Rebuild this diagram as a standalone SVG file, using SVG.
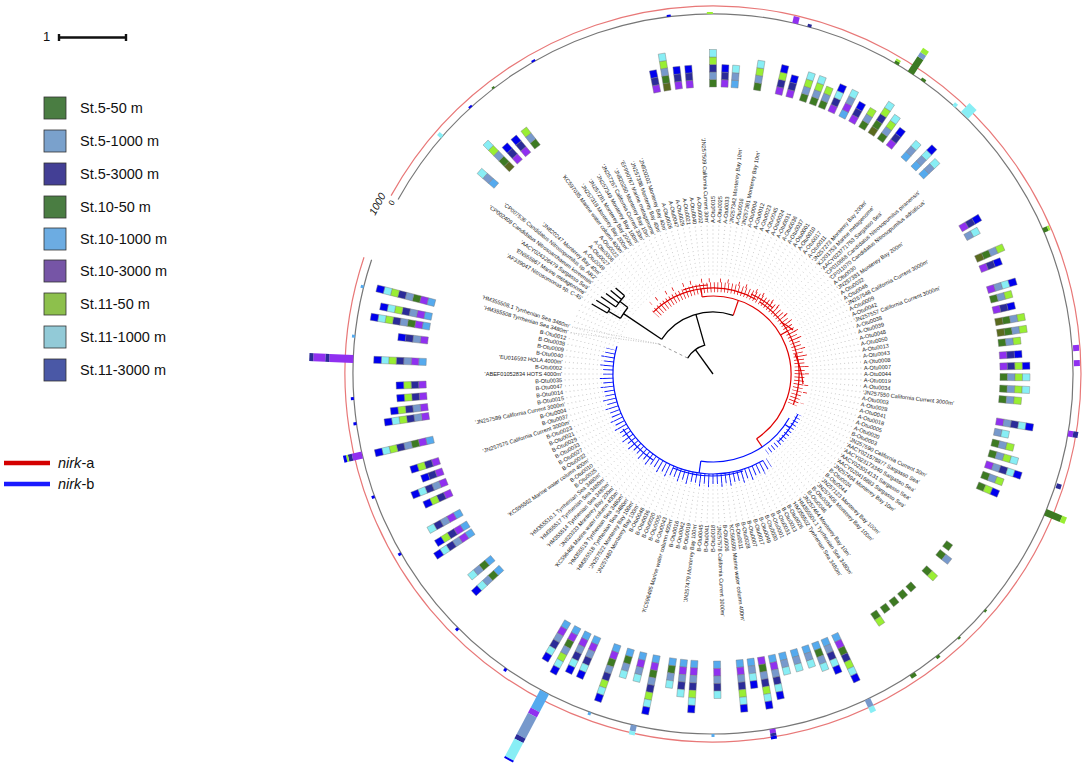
<svg xmlns="http://www.w3.org/2000/svg" width="1084" height="767" viewBox="0 0 1084 767">
<style>
text{font-family:"Liberation Sans",Arial,sans-serif}
.t text{font-size:5.6px;fill:#222}
.t .e{text-anchor:end}
.lg{font-size:14.5px;fill:#111}
.hq{stroke:#777;stroke-width:0.4}
.dots circle{fill:none;stroke:#bbb;stroke-width:0.9;stroke-dasharray:0.18 0.82;stroke-dashoffset:0.09}
.blk{fill:none;stroke:#000;stroke-width:1.3}
.red{fill:none;stroke:#e00000;stroke-width:1.2}
.blu{fill:none;stroke:#0010ff;stroke-width:1.2}
</style>
<defs>
<rect id="hOL" class="hq" x="0" y="-3.5" width="7.5" height="7" fill="#5a6b1e"/>
<rect id="hLB" class="hq" x="0" y="-3.5" width="7.5" height="7" fill="#55aaee"/>
<rect id="hPU" class="hq" x="0" y="-3.5" width="7.5" height="7" fill="#9030f0"/>
<rect id="hDG" class="hq" x="0" y="-3.5" width="7.5" height="7" fill="#3d7a22"/>
<rect id="hSB" class="hq" x="0" y="-3.5" width="7.5" height="7" fill="#7799cc"/>
<rect id="hNV" class="hq" x="0" y="-3.5" width="7.5" height="7" fill="#2b2b99"/>
<rect id="hLG" class="hq" x="0" y="-3.5" width="7.5" height="7" fill="#99ee33"/>
<rect id="hCY" class="hq" x="0" y="-3.5" width="7.5" height="7" fill="#88eef5"/>
<rect id="hBL" class="hq" x="0" y="-3.5" width="7.5" height="7" fill="#0000ee"/>
</defs>
<rect width="1084" height="767" fill="#fff"/>

<g id="legend">
<text x="43" y="41" font-size="13" fill="#111">1</text>
<path d="M59 37.5H126M59 34V41M126 34V41" stroke="#111" stroke-width="2.4" fill="none"/>
<g stroke="#333" stroke-width="0.8">
<rect x="44" y="97" width="22" height="22" fill="#4a7d42"/>
<rect x="44" y="130" width="22" height="22" fill="#7aa1cc"/>
<rect x="44" y="163" width="22" height="22" fill="#433f95"/>
<rect x="44" y="196" width="22" height="22" fill="#4a7d42"/>
<rect x="44" y="228" width="22" height="22" fill="#6cace2"/>
<rect x="44" y="260" width="22" height="22" fill="#7655a6"/>
<rect x="44" y="293" width="22" height="22" fill="#8dc04c"/>
<rect x="44" y="326" width="22" height="22" fill="#92cad7"/>
<rect x="44" y="359" width="22" height="22" fill="#4a58a6"/>
</g>
<text class="lg" x="80" y="113">St.5-50 m</text>
<text class="lg" x="80" y="146">St.5-1000 m</text>
<text class="lg" x="80" y="179">St.5-3000 m</text>
<text class="lg" x="80" y="212">St.10-50 m</text>
<text class="lg" x="80" y="244">St.10-1000 m</text>
<text class="lg" x="80" y="276">St.10-3000 m</text>
<text class="lg" x="80" y="309">St.11-50 m</text>
<text class="lg" x="80" y="342">St.11-1000 m</text>
<text class="lg" x="80" y="375">St.11-3000 m</text>
<line x1="4" y1="463" x2="50" y2="463" stroke="#d40000" stroke-width="4.5"/>
<line x1="4" y1="484" x2="50" y2="484" stroke="#1a1aff" stroke-width="4.5"/>
<text class="lg" x="58" y="468"><tspan font-style="italic">nirk</tspan>-a</text>
<text class="lg" x="58" y="489"><tspan font-style="italic">nirk</tspan>-b</text>
</g>

<g id="ring" transform="translate(713 374)">
<path d="M-314.9,-174.5A360,360 0 1 1 -341.4,-114.2" fill="none" stroke="#777" stroke-width="1.2"/>
<path d="M-321.9,-178.4A368,368 0 1 1 -349,-116.8" fill="none" stroke="#e87878" stroke-width="1.2"/>
<g transform="rotate(303.3)"><rect x="360" y="-3.5" width="18" height="7" fill="#3d7a22"/><rect x="378" y="-3.5" width="5" height="7" fill="#7799cc"/><rect x="383" y="-3.5" width="5" height="7" fill="#99ee33"/></g>
<g transform="rotate(283.2)"><rect x="360" y="-3" width="7" height="6" fill="#9030f0"/></g>
<g transform="rotate(285.5)"><rect x="360" y="-2" width="3" height="4" fill="#2b2b99"/></g>
<g transform="rotate(300.6)"><rect x="360" y="-2.5" width="3" height="5" fill="#3d7a22"/><rect x="363" y="-2.5" width="2" height="5" fill="#99ee33"/></g>
<g transform="rotate(305.6)"><rect x="360" y="-2.5" width="3" height="5" fill="#3d7a22"/></g>
<g transform="rotate(314.2)"><rect x="361" y="-5" width="12" height="10" fill="#88eef5"/></g>
<g transform="rotate(312)"><rect x="360" y="-2" width="4" height="4" fill="#88eef5"/></g>
<g transform="rotate(336.5)"><rect x="360" y="-2.5" width="5" height="5" fill="#3d7a22"/><rect x="365" y="-2.5" width="2" height="5" fill="#99ee33"/></g>
<g transform="rotate(355.9)"><rect x="361" y="-3" width="6" height="6" fill="#9030f0"/></g>
<g transform="rotate(358.3)"><rect x="361" y="-3" width="6" height="6" fill="#9030f0"/></g>
<g transform="rotate(9.5)"><rect x="360" y="-3" width="5" height="6" fill="#9030f0"/><rect x="365" y="-3" width="5" height="6" fill="#2b2b99"/></g>
<g transform="rotate(18)"><rect x="361" y="-2.5" width="5" height="5" fill="#2b2b99"/></g>
<g transform="rotate(22.6)"><rect x="360" y="-3.5" width="17" height="7" fill="#3d7a22"/><rect x="377" y="-3.5" width="5" height="7" fill="#99ee33"/></g>
<g transform="rotate(51.5)"><rect x="360" y="-2" width="3" height="4" fill="#3d7a22"/></g>
<g transform="rotate(56.4)"><rect x="360" y="-3" width="4" height="6" fill="#3d7a22"/></g>
<g transform="rotate(64.6)"><rect x="360" y="-3" width="8" height="6" fill="#7799cc"/><rect x="368" y="-3" width="6" height="6" fill="#88eef5"/></g>
<g transform="rotate(80.5)"><rect x="360" y="-3" width="4" height="6" fill="#9030f0"/><rect x="364" y="-3" width="3" height="6" fill="#2b2b99"/><rect x="367" y="-3" width="3" height="6" fill="#0000ee"/></g>
<g transform="rotate(102.7)"><rect x="360" y="-3" width="6" height="6" fill="#7799cc"/><rect x="366" y="-3" width="4" height="6" fill="#88eef5"/></g>
<g transform="rotate(117.9)"><rect x="360" y="-5" width="20" height="10" fill="#55aaee"/><rect x="380" y="-5" width="6" height="10" fill="#9030f0"/><rect x="386" y="-5" width="24" height="10" fill="#7799cc"/><rect x="410" y="-5" width="5" height="10" fill="#2b2b99"/><rect x="415" y="-5" width="20" height="10" fill="#88eef5"/><rect x="435" y="-5" width="2" height="10" fill="#0000ee"/></g>
<g transform="rotate(167)"><rect x="360" y="-3.5" width="10" height="7" fill="#9030f0"/><rect x="370" y="-3.5" width="4" height="7" fill="#2b2b99"/><rect x="374" y="-3.5" width="2" height="7" fill="#99ee33"/><rect x="376" y="-3.5" width="3" height="7" fill="#0000ee"/></g>
<g transform="rotate(182.4)"><rect x="360" y="-4" width="24" height="8" fill="#9030f0"/><rect x="384" y="-4" width="4" height="8" fill="#2b2b99"/><rect x="388" y="-4" width="12" height="8" fill="#9030f0"/><rect x="400" y="-4" width="4" height="8" fill="#2b2b99"/></g>
<g fill="#0000ee"><rect transform="rotate(125)" x="360" y="-1" width="3" height="3"/><rect transform="rotate(135)" x="360" y="-1" width="3" height="3"/><rect transform="rotate(150)" x="360" y="-1" width="3" height="3"/><rect transform="rotate(160)" x="360" y="-1" width="3" height="3"/><rect transform="rotate(172)" x="360" y="-1" width="3" height="3"/><rect transform="rotate(176)" x="360" y="-1" width="3" height="3"/><rect transform="rotate(262.8)" x="360" y="-1" width="2" height="4"/><rect transform="rotate(240)" x="360" y="-1" width="2" height="4"/><rect transform="rotate(227.6)" x="360" y="-1" width="2" height="4"/></g>
<g fill="#55aaee"><rect transform="rotate(186)" x="360" y="-1.5" width="3" height="3"/><rect transform="rotate(194)" x="360" y="-1.5" width="3" height="3"/><rect transform="rotate(90)" x="360" y="-1.5" width="3" height="3"/><rect transform="rotate(110)" x="360" y="-1.5" width="3" height="3"/></g>
<g transform="rotate(221.2)"><rect x="360" y="-2" width="5" height="4" fill="#88eef5"/></g>
<g transform="rotate(232.5)"><rect x="360" y="-1.5" width="2" height="3" fill="#3d7a22"/></g>
<g transform="rotate(269.5)"><rect x="360" y="-3" width="2" height="6" fill="#99ee33"/></g>
<g transform="rotate(41)"><rect x="360" y="-1.5" width="2" height="3" fill="#3d7a22"/></g>
<g transform="rotate(47)"><rect x="360" y="-1.5" width="2" height="3" fill="#3d7a22"/></g>
<text transform="translate(-338,-158) rotate(-62)" font-size="10.5" font-style="italic" fill="#111">1000</text>
<text transform="translate(-320,-168) rotate(-62)" font-size="8" fill="#111">0</text>
</g>

<g id="leaders" class="dots" transform="translate(713 374)">
<circle r="100" pathLength="156"/><circle r="104" pathLength="156"/><circle r="108" pathLength="156"/><circle r="112" pathLength="156"/><circle r="116" pathLength="156"/><circle r="120" pathLength="156"/><circle r="124" pathLength="156"/><circle r="128" pathLength="156"/><circle r="132" pathLength="156"/><circle r="136" pathLength="156"/><circle r="140" pathLength="156"/><circle r="144" pathLength="156"/><circle r="148" pathLength="156"/>
</g>

<g id="tree" transform="translate(713 374)">
<g class="blk">
<path d="M0,0L-17.6,-24.3"/>
<path d="M-25.4,-15.9A30,30 0 0 1 -8.3,-28.8L-17.1,-59.6"/>
<path d="M-51.4,-34.7A62,62 0 0 1 20.2,-58.6"/>
<path d="M-51.4,-34.7L-89.5,-60.4"/>
<path d="M-92.6,-55.6A108,108 0 0 1 -85.1,-66.5"/>
<path d="M-92.6,-55.6L-104.6,-62.8M-105.7,-61A122,122 0 0 1 -103.1,-65.2M-105.7,-61L-121.2,-70M-103.1,-65.2L-116.7,-73.7"/>
<path d="M-85.1,-66.5L-93,-72.6M-97.1,-67A118,118 0 0 1 -88.4,-78.2M-97.1,-67L-111.9,-77.2M-94.2,-71L-107,-80.6M-91.4,-74.6L-102.3,-83.4M-88.4,-78.2L-97.4,-86.1"/>
</g>
<path d="M-25.4,-15.9L-54.2,-30.1" fill="none" stroke="#999" stroke-width="1" stroke-dasharray="3 3"/>
<path d="M-54.2,-30.1L-142.1,-41.3M-54.2,-30.1L-140.3,-47" fill="none" stroke="#bbb" stroke-width="0.8" stroke-dasharray="1 1.5"/>
<g class="red">
<path d="M20.2,-58.6L25.4,-73.7"/>
<path d="M-10.9,-77.2A78,78 0 0 1 43.6,64.7"/>
<path d="M-10.9,-77.2L-12,-85.2"/>
<path d="M-59.7,-61.9A86,86 0 0 1 43,-74.5"/>
<path d="M67.5,-39L74.5,-43"/>
<path d="M46.8,-72.1A86,86 0 0 1 80.3,30.8"/>
<path d="M43.6,64.7L49.2,73"/>
<path d="M-57.5,-59.9A83,83 0 0 1 79.4,30.2" pathLength="67" stroke-width="10" stroke-dasharray="0.2 0.8" stroke-dashoffset="0.1"/>
<path d="M-62.3,-70.4A94,94 0 0 1 89.1,29.7" pathLength="65" stroke-width="4" stroke-dasharray="0.2 1.8 0.2 2.8" stroke-dashoffset="0.1"/>
<path d="M38,-80A90,90 0 0 1 60,-66M68,-52A94,94 0 0 1 80,-44M82,-20A91,91 0 0 1 90,10M-30,-84A89,89 0 0 1 -5,-89"/>
</g>
<g class="blu">
<path d="M76.2,44A88,88 0 0 1 -12.2,87.1"/>
<path d="M72.1,50.5L77,53.9M84.9,40.3A94,94 0 0 1 65.3,67.6"/>
<path d="M85.8,40.7A95,95 0 0 1 53.9,78.1" pathLength="13" stroke-width="6" stroke-dasharray="0.2 0.8" stroke-dashoffset="0.1"/>
<path d="M-12.2,87.1L-13.9,99"/>
<path d="M50,86.6A100,100 0 0 1 -96.1,-27.6"/>
<path d="M30,97A102,102 0 0 1 -40,94M-60,86A104,104 0 0 1 -90,55"/>
<path d="M56.1,88.8A105,105 0 0 1 -102,-25" pathLength="59" stroke-width="10" stroke-dasharray="0.2 0.8" stroke-dashoffset="0.1"/>
<path d="M51.9,98.9A111.7,111.7 0 0 1 -109.5,-22.3" pathLength="56" stroke-width="3" stroke-dasharray="0.2 2.8 0.2 1.8" stroke-dashoffset="0.1"/>
</g>
</g>

<g id="labels" class="t" transform="translate(713 374)">
<text class="e" transform="rotate(30)" x="-151" dy="2">'AF339047 Nitrosomonas sp. C-45'</text>
<text class="e" transform="rotate(32.3)" x="-151" dy="2">'EN555967 Marine metagenome'</text>
<text class="e" transform="rotate(34.6)" x="-151" dy="2">'AACY024328479 Sargasso Sea'</text>
<text class="e" transform="rotate(36.9)" x="-151" dy="2">'CP002408 Candidatus Nitrosoarchaeum koreensis'</text>
<text class="e" transform="rotate(39.2)" x="-151" dy="2">'CP007536 Candidatus Nitrosopumilus sp. AR2'</text>
<text class="e" transform="rotate(41.5)" x="-151" dy="2">'JN820247 Monterey Bay 40m'</text>
<text class="e" transform="rotate(43.8)" x="-151" dy="2">A-Otu0049</text>
<text class="e" transform="rotate(46.2)" x="-151" dy="2">A-Otu0027</text>
<text class="e" transform="rotate(48.5)" x="-151" dy="2">A-Otu0006</text>
<text class="e" transform="rotate(50.8)" x="-151" dy="2">A-Otu0022</text>
<text class="e" transform="rotate(53.1)" x="-151" dy="2">'KC597035 Marine water column 400m'</text>
<text class="e" transform="rotate(55.4)" x="-151" dy="2">'JN257318 Monterey Bay 200m'</text>
<text class="e" transform="rotate(57.7)" x="-151" dy="2">'JN257281 Monterey Bay 200m'</text>
<text class="e" transform="rotate(60)" x="-151" dy="2">'JN257349 Monterey Bay 100m'</text>
<text class="e" transform="rotate(62.3)" x="-151" dy="2">'JN257267 California Current 30m'</text>
<text class="e" transform="rotate(64.6)" x="-151" dy="2">'JN820250 Monterey Bay 10m'</text>
<text class="e" transform="rotate(66.9)" x="-151" dy="2">'EF990767 Marine metagenome'</text>
<text class="e" transform="rotate(69.2)" x="-151" dy="2">'JN257398 Monterey Bay 40m'</text>
<text class="e" transform="rotate(71.5)" x="-151" dy="2">'JN820202 Monterey Bay 40m'</text>
<text class="e" transform="rotate(73.8)" x="-151" dy="2">A-Otu0026</text>
<text class="e" transform="rotate(76.2)" x="-151" dy="2">A-Otu0047</text>
<text class="e" transform="rotate(78.5)" x="-151" dy="2">A-Otu0029</text>
<text class="e" transform="rotate(80.8)" x="-151" dy="2">A-Otu0021</text>
<text class="e" transform="rotate(83.1)" x="-151" dy="2">A-Otu0040</text>
<text class="e" transform="rotate(85.4)" x="-151" dy="2">A-Otu0002</text>
<text class="e" transform="rotate(87.7)" x="-151" dy="2">'JN257509 California Current 30m'</text>
<text transform="rotate(-90)" x="151" dy="2">A-Otu0015</text>
<text transform="rotate(-87.7)" x="151" dy="2">A-Otu0025</text>
<text transform="rotate(-85.4)" x="151" dy="2">A-Otu0033</text>
<text transform="rotate(-83.1)" x="151" dy="2">'JN257342 Monterey Bay 10m'</text>
<text transform="rotate(-80.8)" x="151" dy="2">A-Otu0016</text>
<text transform="rotate(-78.5)" x="151" dy="2">'JN257361 Monterey Bay 10m'</text>
<text transform="rotate(-76.2)" x="151" dy="2">A-Otu0004</text>
<text transform="rotate(-73.8)" x="151" dy="2">A-Otu0012</text>
<text transform="rotate(-71.5)" x="151" dy="2">A-Otu0023</text>
<text transform="rotate(-69.2)" x="151" dy="2">A-Otu0045</text>
<text transform="rotate(-66.9)" x="151" dy="2">A-Otu0024</text>
<text transform="rotate(-64.6)" x="151" dy="2">A-Otu0031</text>
<text transform="rotate(-62.3)" x="151" dy="2">A-Otu0036</text>
<text transform="rotate(-60)" x="151" dy="2">A-Otu0037</text>
<text transform="rotate(-57.7)" x="151" dy="2">A-Otu0001</text>
<text transform="rotate(-55.4)" x="151" dy="2">A-Otu0010</text>
<text transform="rotate(-53.1)" x="151" dy="2">A-Otu0017</text>
<text transform="rotate(-50.8)" x="151" dy="2">A-Otu0011</text>
<text transform="rotate(-48.5)" x="151" dy="2">'JN257273 Monterey Bay 200m'</text>
<text transform="rotate(-46.2)" x="151" dy="2">'KJ201753 Marine metagenome'</text>
<text transform="rotate(-43.8)" x="151" dy="2">'AACY023771753 Sargasso Sea'</text>
<text transform="rotate(-41.5)" x="151" dy="2">'CP010868 Candidatus Nitrosopumilus piranensis'</text>
<text transform="rotate(-39.2)" x="151" dy="2">'CP011070 Candidatus Nitrosopumilus adriaticus'</text>
<text transform="rotate(-36.9)" x="151" dy="2">A-Otu0030</text>
<text transform="rotate(-34.6)" x="151" dy="2">'JN257381 Monterey Bay 200m'</text>
<text transform="rotate(-32.3)" x="151" dy="2">A-Otu0032</text>
<text transform="rotate(-30)" x="151" dy="2">A-Otu0046</text>
<text transform="rotate(-27.7)" x="151" dy="2">'JN257548 California Current 3000m'</text>
<text transform="rotate(-25.4)" x="151" dy="2">A-Otu0009</text>
<text transform="rotate(-23.1)" x="151" dy="2">A-Otu0042</text>
<text transform="rotate(-20.8)" x="151" dy="2">'JN257557 California Current 3000m'</text>
<text transform="rotate(-18.5)" x="151" dy="2">A-Otu0038</text>
<text transform="rotate(-16.2)" x="151" dy="2">A-Otu0039</text>
<text transform="rotate(-13.8)" x="151" dy="2">A-Otu0048</text>
<text transform="rotate(-11.5)" x="151" dy="2">A-Otu0050</text>
<text transform="rotate(-9.2)" x="151" dy="2">A-Otu0013</text>
<text transform="rotate(-6.9)" x="151" dy="2">A-Otu0043</text>
<text transform="rotate(-4.6)" x="151" dy="2">A-Otu0008</text>
<text transform="rotate(-2.3)" x="151" dy="2">A-Otu0007</text>
<text transform="rotate(0)" x="151" dy="2">A-Otu0044</text>
<text transform="rotate(2.3)" x="151" dy="2">A-Otu0019</text>
<text transform="rotate(4.6)" x="151" dy="2">A-Otu0034</text>
<text transform="rotate(6.9)" x="151" dy="2">'JN257550 California Current 3000m'</text>
<text transform="rotate(9.2)" x="151" dy="2">A-Otu0003</text>
<text transform="rotate(11.5)" x="151" dy="2">A-Otu0028</text>
<text transform="rotate(13.8)" x="151" dy="2">A-Otu0041</text>
<text transform="rotate(16.2)" x="151" dy="2">A-Otu0018</text>
<text transform="rotate(18.5)" x="151" dy="2">A-Otu0005</text>
<text transform="rotate(20.8)" x="151" dy="2">A-Otu0020</text>
<text transform="rotate(23.1)" x="151" dy="2">B-Otu0003</text>
<text transform="rotate(25.4)" x="151" dy="2">'JN257590 California Current 30m'</text>
<text transform="rotate(27.7)" x="151" dy="2">'AACY021578877 Sargasso Sea'</text>
<text transform="rotate(30)" x="151" dy="2">'AACY023173340 Sargasso Sea'</text>
<text transform="rotate(32.3)" x="151" dy="2">'AACY023014131 Sargasso Sea'</text>
<text transform="rotate(34.6)" x="151" dy="2">'AACY020416883 Sargasso Sea'</text>
<text transform="rotate(36.9)" x="151" dy="2">'JN257494 Monterey Bay 10m'</text>
<text transform="rotate(39.2)" x="151" dy="2">B-Otu0024</text>
<text transform="rotate(41.5)" x="151" dy="2">B-Otu0044</text>
<text transform="rotate(43.8)" x="151" dy="2">'JN257123 Monterey Bay 100m'</text>
<text transform="rotate(46.2)" x="151" dy="2">'JN257406 Monterey Bay 100m'</text>
<text transform="rotate(48.5)" x="151" dy="2">B-Otu0034</text>
<text transform="rotate(50.8)" x="151" dy="2">B-Otu0046</text>
<text transform="rotate(53.1)" x="151" dy="2">'JN257464 Monterey Bay 10m'</text>
<text transform="rotate(55.4)" x="151" dy="2">'HM355504.1 Tyrrhenian Sea 3480m'</text>
<text transform="rotate(57.7)" x="151" dy="2">'HM355502 Tyrrhenian Sea 3480m'</text>
<text transform="rotate(60)" x="151" dy="2">B-Otu0026</text>
<text transform="rotate(62.3)" x="151" dy="2">B-Otu0013</text>
<text transform="rotate(64.6)" x="151" dy="2">B-Otu0031</text>
<text transform="rotate(66.9)" x="151" dy="2">B-Otu0001</text>
<text transform="rotate(69.2)" x="151" dy="2">B-Otu0030</text>
<text transform="rotate(71.5)" x="151" dy="2">B-Otu0049</text>
<text transform="rotate(73.8)" x="151" dy="2">B-Otu0017</text>
<text transform="rotate(76.2)" x="151" dy="2">B-Otu0007</text>
<text transform="rotate(78.5)" x="151" dy="2">B-Otu0028</text>
<text transform="rotate(80.8)" x="151" dy="2">B-Otu0011</text>
<text transform="rotate(83.1)" x="151" dy="2">'KC596509 Marine water column 400m'</text>
<text transform="rotate(85.4)" x="151" dy="2">B-Otu0006</text>
<text transform="rotate(87.7)" x="151" dy="2">'JN257578 California Current 3000m'</text>
<text class="e" transform="rotate(-90)" x="-151" dy="2">B-Otu0018</text>
<text class="e" transform="rotate(-87.7)" x="-151" dy="2">B-Otu0041</text>
<text class="e" transform="rotate(-85.4)" x="-151" dy="2">B-Otu0045</text>
<text class="e" transform="rotate(-83.1)" x="-151" dy="2">'JN257479 Monterey Bay 100m'</text>
<text class="e" transform="rotate(-80.8)" x="-151" dy="2">B-Otu0019</text>
<text class="e" transform="rotate(-78.5)" x="-151" dy="2">B-Otu0042</text>
<text class="e" transform="rotate(-76.2)" x="-151" dy="2">B-Otu0016</text>
<text class="e" transform="rotate(-73.8)" x="-151" dy="2">'KC596485 Marine water column 400m'</text>
<text class="e" transform="rotate(-71.5)" x="-151" dy="2">B-Otu0043</text>
<text class="e" transform="rotate(-69.2)" x="-151" dy="2">B-Otu0005</text>
<text class="e" transform="rotate(-66.9)" x="-151" dy="2">B-Otu0020</text>
<text class="e" transform="rotate(-64.6)" x="-151" dy="2">B-Otu0036</text>
<text class="e" transform="rotate(-62.3)" x="-151" dy="2">B-Otu0048</text>
<text class="e" transform="rotate(-60)" x="-151" dy="2">'JN257480 Monterey Bay 100m'</text>
<text class="e" transform="rotate(-57.7)" x="-151" dy="2">'JN257522 Monterey Bay 100m'</text>
<text class="e" transform="rotate(-55.4)" x="-151" dy="2">'HM355518 Tyrrhenian Sea 3480m'</text>
<text class="e" transform="rotate(-53.1)" x="-151" dy="2">'HM355519 Tyrrhenian Sea 3480m'</text>
<text class="e" transform="rotate(-50.8)" x="-151" dy="2">'KC596466 Marine water column 400m'</text>
<text class="e" transform="rotate(-48.5)" x="-151" dy="2">'JN820333 Monterey Bay 200m'</text>
<text class="e" transform="rotate(-46.2)" x="-151" dy="2">'HM355514 Tyrrhenian Sea 3480m'</text>
<text class="e" transform="rotate(-43.8)" x="-151" dy="2">'HM355517 Tyrrhenian Sea 3480m'</text>
<text class="e" transform="rotate(-41.5)" x="-151" dy="2">'HM355510.1 Tyrrhenian Sea 3480m'</text>
<text class="e" transform="rotate(-39.2)" x="-151" dy="2">B-Otu0025</text>
<text class="e" transform="rotate(-36.9)" x="-151" dy="2">B-Otu0010</text>
<text class="e" transform="rotate(-34.6)" x="-151" dy="2">'KC596562 Marine water column 400m'</text>
<text class="e" transform="rotate(-32.3)" x="-151" dy="2">B-Otu0032</text>
<text class="e" transform="rotate(-30)" x="-151" dy="2">B-Otu0027</text>
<text class="e" transform="rotate(-27.7)" x="-151" dy="2">B-Otu0033</text>
<text class="e" transform="rotate(-25.4)" x="-151" dy="2">B-Otu0029</text>
<text class="e" transform="rotate(-23.1)" x="-151" dy="2">B-Otu0021</text>
<text class="e" transform="rotate(-20.8)" x="-151" dy="2">B-Otu0023</text>
<text class="e" transform="rotate(-18.5)" x="-151" dy="2">'JN257575 California Current 3000m'</text>
<text class="e" transform="rotate(-16.2)" x="-151" dy="2">B-Otu0037</text>
<text class="e" transform="rotate(-13.8)" x="-151" dy="2">B-Otu0004</text>
<text class="e" transform="rotate(-11.5)" x="-151" dy="2">'JN257589 California Current 3000m'</text>
<text class="e" transform="rotate(-9.2)" x="-151" dy="2">B-Otu0015</text>
<text class="e" transform="rotate(-6.9)" x="-151" dy="2">B-Otu0014</text>
<text class="e" transform="rotate(-4.6)" x="-151" dy="2">B-Otu0047</text>
<text class="e" transform="rotate(-2.3)" x="-151" dy="2">B-Otu0035</text>
<text class="e" transform="rotate(0)" x="-151" dy="2">'ABEF01052834 HOTS 4000m'</text>
<text class="e" transform="rotate(2.3)" x="-151" dy="2">B-Otu0002</text>
<text class="e" transform="rotate(4.6)" x="-151" dy="2">'EU016592 HOLA 4000m'</text>
<text class="e" transform="rotate(6.9)" x="-151" dy="2">B-Otu0040</text>
<text class="e" transform="rotate(9.2)" x="-151" dy="2">B-Otu0009</text>
<text class="e" transform="rotate(11.5)" x="-151" dy="2">B-Otu0038</text>
<text class="e" transform="rotate(13.8)" x="-151" dy="2">B-Otu0012</text>
<text class="e" transform="rotate(16.2)" x="-151" dy="2">'HM355508 Tyrrhenian Sea 3480m'</text>
<text class="e" transform="rotate(18.5)" x="-151" dy="2">'HM355508.1 Tyrrhenian Sea 3480m'</text>
</g>

<g id="heatmap" transform="translate(713 374)">
<g transform="rotate(221)"><use href="#hLB" x="287"/><use href="#hSB" x="294.5"/><use href="#hCY" x="302"/></g>
<g transform="rotate(225.5)"><use href="#hOL" x="287"/><use href="#hDG" x="294.5"/><use href="#hSB" x="302"/><use href="#hLG" x="309.5"/><use href="#hCY" x="317"/></g>
<g transform="rotate(227.7)"><use href="#hPU" x="287"/><use href="#hNV" x="294.5"/><use href="#hBL" x="302"/></g>
<g transform="rotate(229.9)"><use href="#hPU" x="287"/><use href="#hNV" x="294.5"/><use href="#hBL" x="302"/></g>
<g transform="rotate(232.3)"><use href="#hDG" x="287"/><use href="#hSB" x="294.5"/><use href="#hLG" x="302"/></g>
<g transform="rotate(258.8)"><use href="#hPU" x="287"/><use href="#hNV" x="294.5"/><use href="#hBL" x="302"/></g>
<g transform="rotate(260.9)"><use href="#hOL" x="287"/><use href="#hDG" x="294.5"/><use href="#hSB" x="302"/><use href="#hLG" x="309.5"/><use href="#hCY" x="317"/></g>
<g transform="rotate(263.2)"><use href="#hPU" x="287"/><use href="#hNV" x="294.5"/><use href="#hBL" x="302"/></g>
<g transform="rotate(265.4)"><use href="#hPU" x="287"/><use href="#hNV" x="294.5"/><use href="#hBL" x="302"/></g>
<g transform="rotate(270)"><use href="#hDG" x="287"/><use href="#hSB" x="294.5"/><use href="#hNV" x="302"/><use href="#hLG" x="309.5"/><use href="#hCY" x="317"/></g>
<g transform="rotate(272.3)"><use href="#hPU" x="287"/><use href="#hNV" x="294.5"/><use href="#hBL" x="302"/></g>
<g transform="rotate(274.3)"><use href="#hLB" x="287"/><use href="#hSB" x="294.5"/><use href="#hCY" x="302"/></g>
<g transform="rotate(278.8)"><use href="#hDG" x="287"/><use href="#hSB" x="294.5"/><use href="#hLG" x="302"/><use href="#hCY" x="309.5"/></g>
<g transform="rotate(283.2)"><use href="#hPU" x="287"/><use href="#hNV" x="294.5"/><use href="#hLG" x="302"/><use href="#hBL" x="309.5"/></g>
<g transform="rotate(285.4)"><use href="#hPU" x="287"/><use href="#hNV" x="294.5"/><use href="#hBL" x="302"/></g>
<g transform="rotate(288.2)"><use href="#hDG" x="287"/><use href="#hSB" x="294.5"/><use href="#hLG" x="302"/><use href="#hCY" x="309.5"/></g>
<g transform="rotate(290.3)"><use href="#hDG" x="287"/><use href="#hSB" x="294.5"/><use href="#hLG" x="302"/><use href="#hCY" x="309.5"/></g>
<g transform="rotate(292.2)"><use href="#hDG" x="287"/><use href="#hSB" x="294.5"/><use href="#hLG" x="302"/></g>
<g transform="rotate(294.3)"><use href="#hPU" x="287"/><use href="#hNV" x="294.5"/><use href="#hCY" x="302"/><use href="#hBL" x="309.5"/></g>
<g transform="rotate(296.7)"><use href="#hLB" x="287"/><use href="#hPU" x="294.5"/><use href="#hSB" x="302"/><use href="#hCY" x="309.5"/></g>
<g transform="rotate(298.9)"><use href="#hPU" x="287"/><use href="#hNV" x="294.5"/><use href="#hBL" x="302"/></g>
<g transform="rotate(301.2)"><use href="#hDG" x="287"/><use href="#hSB" x="294.5"/><use href="#hLG" x="302"/></g>
<g transform="rotate(303.4)"><use href="#hOL" x="287"/><use href="#hDG" x="294.5"/><use href="#hNV" x="302"/><use href="#hLG" x="309.5"/><use href="#hCY" x="317"/></g>
<g transform="rotate(305.6)"><use href="#hDG" x="287"/><use href="#hSB" x="294.5"/><use href="#hLG" x="302"/><use href="#hCY" x="309.5"/></g>
<g transform="rotate(307.8)"><use href="#hPU" x="287"/><use href="#hNV" x="294.5"/><use href="#hBL" x="302"/></g>
<g transform="rotate(311.6)"><use href="#hLB" x="287"/><use href="#hSB" x="294.5"/><use href="#hCY" x="302"/></g>
<g transform="rotate(314.3)"><use href="#hLB" x="287"/><use href="#hSB" x="294.5"/><use href="#hCY" x="302"/><use href="#hBL" x="309.5"/></g>
<g transform="rotate(316.5)"><use href="#hLB" x="287"/><use href="#hSB" x="294.5"/><use href="#hCY" x="302"/></g>
<g transform="rotate(329.6)"><use href="#hPU" x="287"/><use href="#hNV" x="294.5"/><use href="#hBL" x="302"/></g>
<g transform="rotate(331.6)"><use href="#hSB" x="287"/><use href="#hCY" x="294.5"/></g>
<g transform="rotate(336.4)"><use href="#hOL" x="287"/><use href="#hDG" x="294.5"/><use href="#hSB" x="302"/><use href="#hLG" x="309.5"/></g>
<g transform="rotate(338.6)"><use href="#hPU" x="287"/><use href="#hNV" x="294.5"/><use href="#hBL" x="302"/></g>
<g transform="rotate(343)"><use href="#hPU" x="287"/><use href="#hSB" x="294.5"/><use href="#hCY" x="302"/><use href="#hBL" x="309.5"/></g>
<g transform="rotate(345)"><use href="#hDG" x="287"/><use href="#hSB" x="294.5"/><use href="#hLG" x="302"/></g>
<g transform="rotate(347.2)"><use href="#hPU" x="287"/><use href="#hNV" x="294.5"/><use href="#hBL" x="302"/></g>
<g transform="rotate(349.6)"><use href="#hOL" x="287"/><use href="#hDG" x="294.5"/><use href="#hSB" x="302"/><use href="#hLG" x="309.5"/></g>
<g transform="rotate(351.8)"><use href="#hOL" x="287"/><use href="#hDG" x="294.5"/><use href="#hSB" x="302"/><use href="#hLG" x="309.5"/></g>
<g transform="rotate(353.8)"><use href="#hDG" x="287"/><use href="#hSB" x="294.5"/><use href="#hLG" x="302"/></g>
<g transform="rotate(356.3)"><use href="#hPU" x="287"/><use href="#hNV" x="294.5"/><use href="#hBL" x="302"/></g>
<g transform="rotate(358.5)"><use href="#hPU" x="287"/><use href="#hNV" x="294.5"/><use href="#hLG" x="302"/><use href="#hBL" x="309.5"/></g>
<g transform="rotate(0.6)"><use href="#hDG" x="287"/><use href="#hSB" x="294.5"/><use href="#hLG" x="302"/><use href="#hCY" x="309.5"/></g>
<g transform="rotate(2.9)"><use href="#hDG" x="287"/><use href="#hSB" x="294.5"/><use href="#hLG" x="302"/><use href="#hCY" x="309.5"/></g>
<g transform="rotate(5)"><use href="#hDG" x="287"/><use href="#hSB" x="294.5"/><use href="#hLG" x="302"/></g>
<g transform="rotate(9.5)"><use href="#hPU" x="287"/><use href="#hSB" x="294.5"/><use href="#hNV" x="302"/><use href="#hCY" x="309.5"/><use href="#hBL" x="317"/></g>
<g transform="rotate(11.6)"><use href="#hSB" x="287"/><use href="#hCY" x="294.5"/></g>
<g transform="rotate(13.8)"><use href="#hDG" x="287"/><use href="#hSB" x="294.5"/><use href="#hLG" x="302"/></g>
<g transform="rotate(16)"><use href="#hDG" x="287"/><use href="#hSB" x="294.5"/><use href="#hLG" x="302"/><use href="#hCY" x="309.5"/></g>
<g transform="rotate(18.3)"><use href="#hPU" x="287"/><use href="#hSB" x="294.5"/><use href="#hNV" x="302"/><use href="#hCY" x="309.5"/><use href="#hBL" x="317"/></g>
<g transform="rotate(20.5)"><use href="#hDG" x="287"/><use href="#hSB" x="294.5"/><use href="#hLG" x="302"/></g>
<g transform="rotate(22.8)"><use href="#hDG" x="287"/><use href="#hLG" x="294.5"/><use href="#hBL" x="302"/></g>
<g transform="rotate(36.2)"><use href="#hDG" x="287"/></g>
<g transform="rotate(38.4)"><use href="#hDG" x="287"/><use href="#hSB" x="294.5"/></g>
<g transform="rotate(42.6)"><use href="#hDG" x="287"/><use href="#hLG" x="294.5"/></g>
<g transform="rotate(47.1)"><use href="#hDG" x="287"/></g>
<g transform="rotate(49.3)"><use href="#hDG" x="287"/></g>
<g transform="rotate(51.5)"><use href="#hDG" x="287"/></g>
<g transform="rotate(53.7)"><use href="#hDG" x="287"/></g>
<g transform="rotate(56)"><use href="#hDG" x="287"/><use href="#hLG" x="294.5"/></g>
<g transform="rotate(64.9)"><use href="#hLB" x="287"/><use href="#hPU" x="294.5"/><use href="#hDG" x="302"/><use href="#hNV" x="309.5"/><use href="#hLG" x="317"/><use href="#hCY" x="324.5"/><use href="#hBL" x="332"/></g>
<g transform="rotate(67.2)"><use href="#hLB" x="287"/><use href="#hSB" x="294.5"/><use href="#hNV" x="302"/><use href="#hCY" x="309.5"/><use href="#hBL" x="317"/></g>
<g transform="rotate(69.2)"><use href="#hLB" x="287"/><use href="#hDG" x="294.5"/><use href="#hSB" x="302"/><use href="#hCY" x="309.5"/></g>
<g transform="rotate(71.3)"><use href="#hLB" x="287"/><use href="#hSB" x="294.5"/><use href="#hCY" x="302"/></g>
<g transform="rotate(73.7)"><use href="#hLB" x="287"/><use href="#hSB" x="294.5"/><use href="#hCY" x="302"/></g>
<g transform="rotate(76.1)"><use href="#hLB" x="287"/><use href="#hSB" x="294.5"/><use href="#hCY" x="302"/></g>
<g transform="rotate(78.2)"><use href="#hLB" x="287"/><use href="#hPU" x="294.5"/><use href="#hSB" x="302"/><use href="#hNV" x="309.5"/><use href="#hCY" x="317"/><use href="#hBL" x="324.5"/></g>
<g transform="rotate(80.4)"><use href="#hPU" x="287"/><use href="#hDG" x="294.5"/><use href="#hSB" x="302"/><use href="#hNV" x="309.5"/><use href="#hLG" x="317"/><use href="#hCY" x="324.5"/><use href="#hBL" x="332"/></g>
<g transform="rotate(82.5)"><use href="#hLB" x="287"/><use href="#hSB" x="294.5"/><use href="#hCY" x="302"/><use href="#hBL" x="309.5"/></g>
<g transform="rotate(84.7)"><use href="#hLB" x="287"/><use href="#hPU" x="294.5"/><use href="#hSB" x="302"/><use href="#hNV" x="309.5"/><use href="#hLG" x="317"/><use href="#hCY" x="324.5"/><use href="#hBL" x="332"/></g>
<g transform="rotate(89.2)"><use href="#hLB" x="287"/><use href="#hPU" x="294.5"/><use href="#hSB" x="302"/><use href="#hNV" x="309.5"/><use href="#hCY" x="317"/></g>
<g transform="rotate(93.7)"><use href="#hLB" x="287"/><use href="#hPU" x="294.5"/><use href="#hSB" x="302"/><use href="#hNV" x="309.5"/><use href="#hLG" x="317"/><use href="#hCY" x="324.5"/><use href="#hBL" x="332"/></g>
<g transform="rotate(95.8)"><use href="#hLB" x="287"/><use href="#hPU" x="294.5"/><use href="#hSB" x="302"/><use href="#hNV" x="309.5"/><use href="#hCY" x="317"/></g>
<g transform="rotate(98)"><use href="#hLB" x="287"/><use href="#hDG" x="294.5"/><use href="#hSB" x="302"/><use href="#hCY" x="309.5"/></g>
<g transform="rotate(101.3)"><use href="#hLB" x="287"/><use href="#hPU" x="294.5"/><use href="#hDG" x="302"/><use href="#hSB" x="309.5"/><use href="#hNV" x="317"/><use href="#hLG" x="324.5"/><use href="#hCY" x="332"/><use href="#hBL" x="339.5"/></g>
<g transform="rotate(104)"><use href="#hLB" x="287"/><use href="#hPU" x="294.5"/><use href="#hSB" x="302"/><use href="#hCY" x="309.5"/></g>
<g transform="rotate(106.6)"><use href="#hLB" x="287"/><use href="#hDG" x="294.5"/><use href="#hSB" x="302"/><use href="#hCY" x="309.5"/></g>
<g transform="rotate(109.4)"><use href="#hLB" x="287"/><use href="#hPU" x="294.5"/><use href="#hDG" x="302"/><use href="#hSB" x="309.5"/><use href="#hNV" x="317"/><use href="#hLG" x="324.5"/><use href="#hCY" x="332"/><use href="#hBL" x="339.5"/></g>
<g transform="rotate(113.7)"><use href="#hLB" x="287"/><use href="#hPU" x="294.5"/><use href="#hSB" x="302"/><use href="#hNV" x="309.5"/><use href="#hCY" x="317"/><use href="#hBL" x="324.5"/></g>
<g transform="rotate(115.8)"><use href="#hLB" x="287"/><use href="#hPU" x="294.5"/><use href="#hSB" x="302"/><use href="#hNV" x="309.5"/><use href="#hCY" x="317"/><use href="#hBL" x="324.5"/></g>
<g transform="rotate(118.1)"><use href="#hLB" x="287"/><use href="#hPU" x="294.5"/><use href="#hDG" x="302"/><use href="#hSB" x="309.5"/><use href="#hLG" x="317"/><use href="#hCY" x="324.5"/><use href="#hBL" x="332"/></g>
<g transform="rotate(120.4)"><use href="#hLB" x="287"/><use href="#hPU" x="294.5"/><use href="#hSB" x="302"/><use href="#hNV" x="309.5"/><use href="#hCY" x="317"/><use href="#hBL" x="324.5"/></g>
<g transform="rotate(137.5)"><use href="#hLB" x="287"/><use href="#hDG" x="294.5"/><use href="#hSB" x="302"/><use href="#hCY" x="309.5"/><use href="#hBL" x="317"/></g>
<g transform="rotate(140.1)"><use href="#hLB" x="287"/><use href="#hDG" x="294.5"/><use href="#hSB" x="302"/><use href="#hCY" x="309.5"/></g>
<g transform="rotate(146.7)"><use href="#hLB" x="287"/><use href="#hPU" x="294.5"/><use href="#hSB" x="302"/><use href="#hNV" x="309.5"/><use href="#hCY" x="317"/><use href="#hBL" x="324.5"/></g>
<g transform="rotate(148.5)"><use href="#hLB" x="287"/><use href="#hPU" x="294.5"/><use href="#hNV" x="302"/><use href="#hLG" x="309.5"/><use href="#hBL" x="317"/></g>
<g transform="rotate(151.2)"><use href="#hLB" x="287"/><use href="#hPU" x="294.5"/><use href="#hSB" x="302"/><use href="#hNV" x="309.5"/><use href="#hCY" x="317"/></g>
<g transform="rotate(155.6)"><use href="#hPU" x="287"/><use href="#hNV" x="294.5"/><use href="#hLG" x="302"/><use href="#hBL" x="309.5"/></g>
<g transform="rotate(158)"><use href="#hPU" x="287"/><use href="#hSB" x="294.5"/><use href="#hNV" x="302"/><use href="#hCY" x="309.5"/><use href="#hBL" x="317"/></g>
<g transform="rotate(160.2)"><use href="#hPU" x="287"/><use href="#hNV" x="294.5"/><use href="#hBL" x="302"/></g>
<g transform="rotate(162.4)"><use href="#hPU" x="287"/><use href="#hNV" x="294.5"/><use href="#hLG" x="302"/><use href="#hBL" x="309.5"/></g>
<g transform="rotate(166.8)"><use href="#hLB" x="287"/><use href="#hPU" x="294.5"/><use href="#hDG" x="302"/><use href="#hSB" x="309.5"/><use href="#hNV" x="317"/><use href="#hLG" x="324.5"/><use href="#hCY" x="332"/><use href="#hBL" x="339.5"/></g>
<g transform="rotate(171.6)"><use href="#hPU" x="287"/><use href="#hSB" x="294.5"/><use href="#hNV" x="302"/><use href="#hLG" x="309.5"/><use href="#hCY" x="317"/><use href="#hBL" x="324.5"/></g>
<g transform="rotate(173.4)"><use href="#hPU" x="287"/><use href="#hSB" x="294.5"/><use href="#hNV" x="302"/><use href="#hLG" x="309.5"/><use href="#hBL" x="317"/></g>
<g transform="rotate(175.6)"><use href="#hPU" x="287"/><use href="#hNV" x="294.5"/><use href="#hLG" x="302"/><use href="#hBL" x="309.5"/></g>
<g transform="rotate(177.9)"><use href="#hPU" x="287"/><use href="#hNV" x="294.5"/><use href="#hLG" x="302"/><use href="#hBL" x="309.5"/></g>
<g transform="rotate(182.4)"><use href="#hLB" x="287"/><use href="#hPU" x="294.5"/><use href="#hSB" x="302"/><use href="#hNV" x="309.5"/><use href="#hLG" x="317"/><use href="#hCY" x="324.5"/><use href="#hBL" x="332"/></g>
<g transform="rotate(186.7)"><use href="#hPU" x="287"/><use href="#hSB" x="294.5"/><use href="#hNV" x="302"/><use href="#hBL" x="309.5"/></g>
<g transform="rotate(189.5)"><use href="#hLB" x="287"/><use href="#hPU" x="294.5"/><use href="#hDG" x="302"/><use href="#hSB" x="309.5"/><use href="#hNV" x="317"/><use href="#hLG" x="324.5"/><use href="#hCY" x="332"/><use href="#hBL" x="339.5"/></g>
<g transform="rotate(191.5)"><use href="#hLB" x="287"/><use href="#hPU" x="294.5"/><use href="#hSB" x="302"/><use href="#hNV" x="309.5"/><use href="#hLG" x="317"/><use href="#hCY" x="324.5"/><use href="#hBL" x="332"/></g>
<g transform="rotate(194.3)"><use href="#hLB" x="287"/><use href="#hPU" x="294.5"/><use href="#hDG" x="302"/><use href="#hSB" x="309.5"/><use href="#hNV" x="317"/><use href="#hLG" x="324.5"/><use href="#hCY" x="332"/><use href="#hBL" x="339.5"/></g>
</g>
</svg>
